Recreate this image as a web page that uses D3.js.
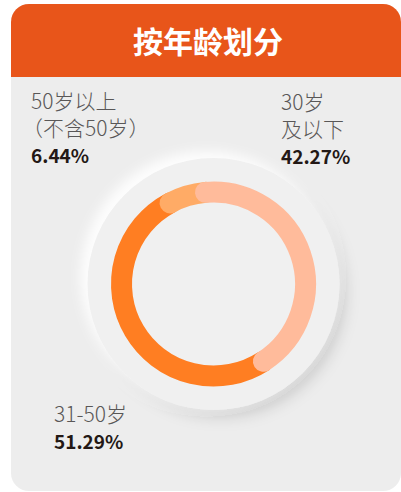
<!DOCTYPE html>
<html>
<head>
<meta charset="utf-8">
<script src="https://cdn.jsdelivr.net/npm/d3@7"></script>
<style>
  html, body { margin: 0; padding: 0; background: #fff; }
  text { font-family: "Noto Sans CJK SC", "Noto Sans", sans-serif; }
</style>
</head>
<body>
<div id="chart"></div>
<script>

// data
var title = "按年龄划分";
var categories = ["30岁及以下", "31-50岁", "50岁以上（不含50岁）"];
var values = [42.27, 51.29, 6.44];
var labelLines = [["30岁", "及以下"], ["31-50岁"], ["50岁以上", "（不含50岁）"]];
var colors = ["#FFBB9B", "#FF7E22", "#FFAB66"];

var width = 401, height = 492;
var card = { x: 11, y: 4, w: 390, h: 487, r: 18, head: 73 };
var cx = 213.5, cy = 284, ringR = 92, ringW = 21, plateR = 126;

var svg = d3.select("#chart")
    .append("svg")
    .attr("width", width)
    .attr("height", height);

var defs = svg.append("defs");

// soft neumorphic shadow for the plate
var f = defs.append("filter")
    .attr("id", "plateShadow")
    .attr("x", "-30%").attr("y", "-30%")
    .attr("width", "160%").attr("height", "160%");
f.append("feDropShadow")
    .attr("dx", 7).attr("dy", 8).attr("stdDeviation", 7)
    .attr("flood-color", "#000").attr("flood-opacity", 0.13)
    .attr("result", "dark");
f.append("feDropShadow")
    .attr("in", "SourceGraphic")
    .attr("dx", -7).attr("dy", -7).attr("stdDeviation", 6)
    .attr("flood-color", "#fff").attr("flood-opacity", 0.9)
    .attr("result", "light");
var fm = f.append("feMerge");
fm.append("feMergeNode").attr("in", "dark");
fm.append("feMergeNode").attr("in", "light");

// card with rounded corners
defs.append("clipPath").attr("id", "cardClip")
    .append("rect")
    .attr("x", card.x).attr("y", card.y)
    .attr("width", card.w).attr("height", card.h)
    .attr("rx", card.r);

var g = svg.append("g").attr("clip-path", "url(#cardClip)");

g.append("rect")
    .attr("x", card.x).attr("y", card.y)
    .attr("width", card.w).attr("height", card.h)
    .attr("fill", "#EDEDED");

g.append("rect")
    .attr("x", card.x).attr("y", card.y)
    .attr("width", card.w).attr("height", card.head)
    .attr("fill", "#E8551A");

g.append("text")
    .attr("x", 208)
    .attr("y", 53)
    .attr("text-anchor", "middle")
    .attr("fill", "#fff")
    .style("font-size", "30px")
    .style("font-weight", 700)
    .text(title);

// plate behind the ring
g.append("circle")
    .attr("cx", cx).attr("cy", cy)
    .attr("r", plateR)
    .attr("fill", "#F0F0F0")
    .attr("filter", "url(#plateShadow)");

// ring segments
var a0 = -5 * Math.PI / 180;
var pie = d3.pie()
    .sort(null)
    .value(function (d) { return d; })
    .startAngle(a0)
    .endAngle(a0 + 2 * Math.PI);

var arcs = pie(values);

function arcPath(d) {
    var p = d3.path();
    p.arc(0, 0, ringR, d.startAngle - Math.PI / 2, d.endAngle - Math.PI / 2);
    return p.toString();
}

var ring = g.append("g").attr("transform", "translate(" + cx + "," + cy + ")");

// draw order: 31-50, 50+, then 30-and-under on top
[1, 2, 0].forEach(function (i) {
    ring.append("path")
        .attr("d", arcPath(arcs[i]))
        .attr("fill", "none")
        .attr("stroke", colors[i])
        .attr("stroke-width", ringW)
        .attr("stroke-linecap", "round");
});

// labels
var labelPos = [
    { x: 281, y: 110 },
    { x: 54, y: 422 },
    { x: 31, y: 109 }
];

labelPos.forEach(function (pos, i) {
    var t = g.append("text")
        .attr("x", pos.x)
        .attr("y", pos.y);
    labelLines[i].forEach(function (line, j) {
        t.append("tspan")
            .attr("x", line.charAt(0) === "（" ? pos.x - 9 : pos.x)
            .attr("dy", j === 0 ? 0 : 27)
            .attr("fill", "#595757")
            .style("font-size", "21px")
            .style("font-weight", 300)
            .text(line);
    });
    t.append("tspan")
        .attr("x", pos.x)
        .attr("dy", 27)
        .attr("fill", "#231815")
        .style("font-size", "19px")
        .style("font-weight", 700)
        .text(values[i].toFixed(2) + "%");
});

</script>
</body>
</html>
